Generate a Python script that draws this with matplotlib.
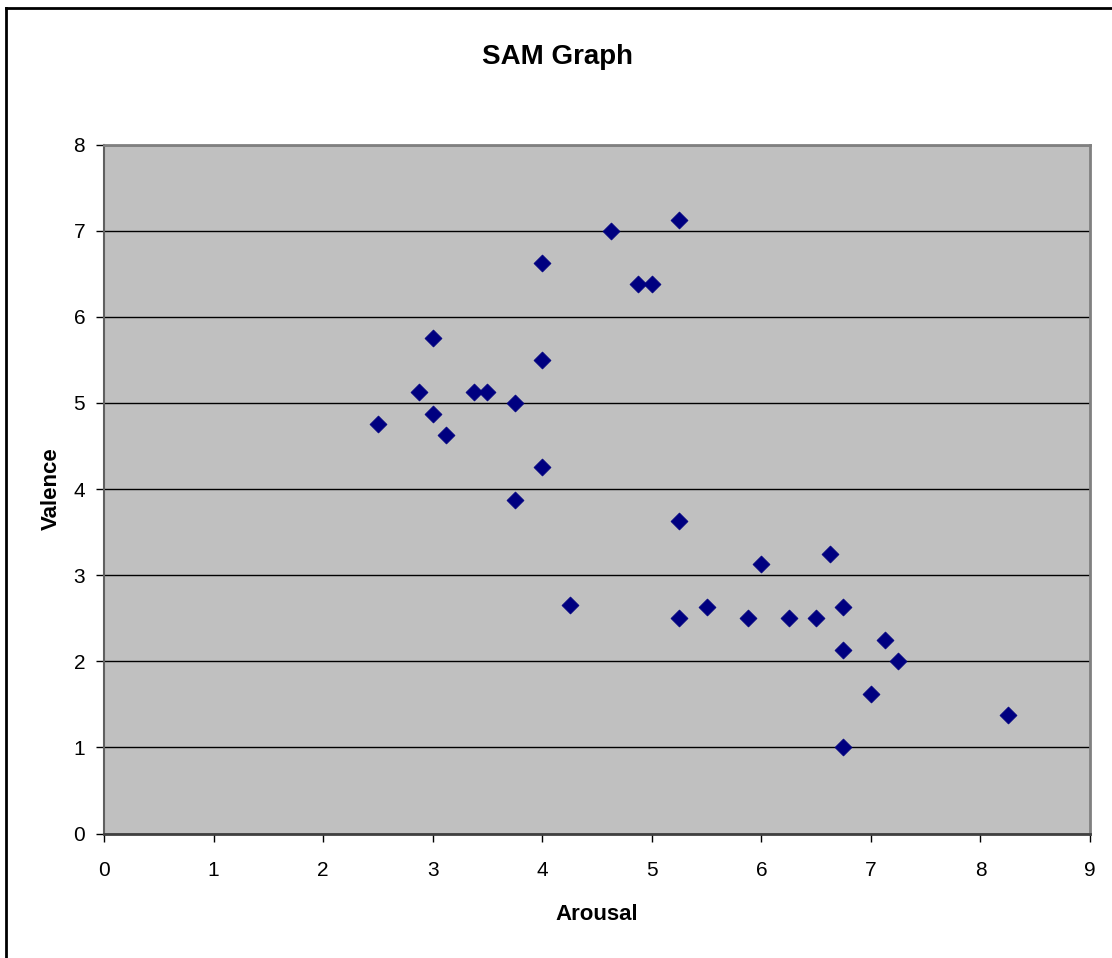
import matplotlib
matplotlib.use("Agg")
import matplotlib.pyplot as plt
from matplotlib.lines import Line2D

arousal = [2.5, 2.875, 3.0, 3.0, 3.125, 3.375, 3.5, 3.75, 3.75, 4.0, 4.0, 4.0,
           4.25, 4.625, 4.875, 5.0, 5.25, 5.25, 5.25, 5.5, 5.875, 6.0, 6.25, 6.5,
           6.625, 6.75, 6.75, 6.75, 7.0, 7.125, 7.25, 8.25]
valence = [4.75, 5.125, 5.75, 4.875, 4.625, 5.125, 5.125, 5.0, 3.875, 6.625, 5.5, 4.25,
           2.65, 7.0, 6.375, 6.375, 7.125, 3.625, 2.5, 2.625, 2.5, 3.125, 2.5, 2.5,
           3.25, 2.625, 2.125, 1.0, 1.625, 2.25, 2.0, 1.375]
x_ticks = [0, 1, 2, 3, 4, 5, 6, 7, 8, 9]
y_ticks = [0, 1, 2, 3, 4, 5, 6, 7, 8]

plt.rcParams['font.family'] = ['Liberation Sans', 'DejaVu Sans']

W, H = 1112, 958
fig = plt.figure(figsize=(W / 100, H / 100), dpi=100)
fig.patch.set_facecolor('white')

# outer chart frame (left and top edges visible)
fig.add_artist(Line2D([6 / W, 6 / W], [0, 1 - 8 / H], color='black', lw=2, transform=fig.transFigure))
fig.add_artist(Line2D([6 / W, 1], [1 - 8 / H, 1 - 8 / H], color='black', lw=2, transform=fig.transFigure))

left, right = 104 / W, 1090 / W
bottom, top = 1 - 833.5 / H, 1 - 144.5 / H
ax = fig.add_axes([left, bottom, right - left, top - bottom])
ax.set_facecolor('#C0C0C0')

ax.scatter(arousal, valence, marker='D', s=75, color='#000080', edgecolors='#000080',
           linewidths=0.5, zorder=3)

ax.set_xlim(0, 9)
ax.set_ylim(0, 8)
ax.set_xticks(x_ticks)
ax.set_yticks(y_ticks)
ax.yaxis.grid(True, color='black', linewidth=1.0)
ax.set_axisbelow(True)

for side in ['top', 'right']:
    ax.spines[side].set_color('#808080')
    ax.spines[side].set_linewidth(2)
ax.spines['left'].set_color('#606060')
ax.spines['left'].set_linewidth(1.5)
ax.spines['bottom'].set_color('#404040')
ax.spines['bottom'].set_linewidth(2)

ax.tick_params(axis='both', direction='out', length=5.5, width=1, color='black',
               labelsize=15)
ax.tick_params(axis='x', pad=14.5)
ax.tick_params(axis='y', pad=8)

ax.set_xlabel('Arousal', fontsize=16, fontweight='bold', labelpad=17)
ax.set_ylabel('Valence', fontsize=16, fontweight='bold', labelpad=8.5)

fig.text(558 / W, 1 - 57 / H, 'SAM Graph', fontsize=20, fontweight='bold',
         ha='center', va='center')

fig.savefig('out.png', dpi=100)
